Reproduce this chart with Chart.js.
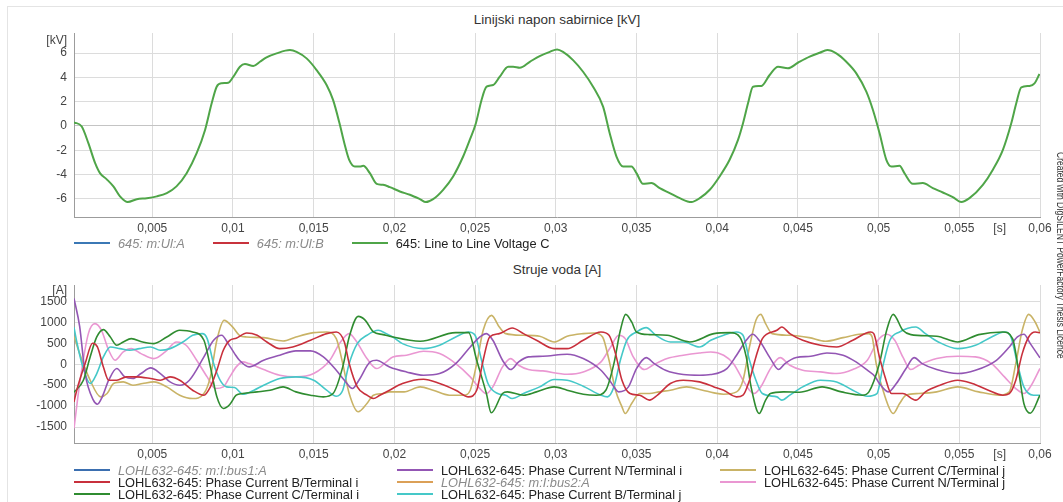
<!DOCTYPE html>
<html>
<head>
<meta charset="utf-8">
<script src="https://cdn.jsdelivr.net/npm/chart.js@4.4.0/dist/chart.umd.min.js"></script>
<style>
body { margin: 0; background: #fff; font-family: "Liberation Sans", Arial, sans-serif; overflow: hidden; }
#okvir { position: absolute; left: 7px; top: 6px; width: 1060px; height: 500px; border-top: 1px solid #e4e4e4; border-left: 1px solid #e4e4e4; }
.graf { position: absolute; left: 0; }
.naslov { position: absolute; left: 74px; width: 966px; text-align: center; font-size: 13.5px; color: #333; line-height: 16px; }
.legenda { position: absolute; left: 74px; font-size: 12.8px; color: #222; }
.legenda .stavka { display: flex; align-items: center; height: 12px; white-space: nowrap; }
.legenda .crta { width: 36px; height: 2px; margin-right: 8px; flex: none; }
.legenda .skriven { font-style: italic; color: #8a8a8a; }
#gornjaLegenda { top: 237px; display: flex; }
#gornjaLegenda .stavka { margin-right: 28px; }
#donjaLegenda { top: 464px; display: grid; grid-auto-flow: column; grid-template-rows: 12px 12px 12px; grid-template-columns: 323px 323px 323px; }
#potpis { position: absolute; left: 1055px; top: 152px; writing-mode: vertical-rl; transform: scaleY(0.85); transform-origin: top; font-size: 10px; color: #333; white-space: nowrap; }
</style>
</head>
<body>
<div id="okvir"></div>
<div class="naslov" style="top:12px">Linijski napon sabirnice [kV]</div>
<canvas id="naponGraf" class="graf" style="top:0" width="1063" height="252"></canvas>
<div id="gornjaLegenda" class="legenda"></div>
<div class="naslov" style="top:262px">Struje voda [A]</div>
<canvas id="strujaGraf" class="graf" style="top:252px" width="1063" height="250"></canvas>
<div id="donjaLegenda" class="legenda"></div>
<div id="potpis">Created with DIgSILENT PowerFactory Thesis Licence</div>
<script>
// vrijeme u ms, napon u kV
var naponC = [[0.15, 0.3], [0.63, -0.05], [1.04, -1.42], [1.46, -3.07], [1.76, -3.89], [2.18, -4.4], [2.59, -4.98],
    [3.0, -5.8], [3.48, -6.27], [4.04, -6.03], [4.66, -5.95], [5.28, -5.8], [5.9, -5.53], [6.5, -4.98], [7.13, -3.89],
    [7.75, -2.25], [8.27, -0.33], [8.68, 1.86], [8.99, 3.23], [9.3, 3.51], [9.71, 3.56], [10.02, 4.05], [10.43, 4.87],
    [10.74, 5.09], [11.26, 4.93], [11.67, 5.28], [12.08, 5.64], [12.7, 5.97], [13.53, 6.24], [13.94, 6.1], [14.56, 5.56],
    [15.18, 4.6], [15.8, 3.37], [16.2, 2.14], [16.6, 0.22], [16.9, -1.42], [17.2, -2.79], [17.55, -3.34], [17.86, -3.34],
    [18.07, -3.29], [18.48, -3.89], [18.9, -4.77], [19.3, -4.85], [19.72, -5.04], [20.34, -5.4], [20.96, -5.67],
    [21.58, -6.03], [21.95, -6.27], [22.4, -6.03], [23.02, -5.26], [23.64, -4.16], [24.26, -2.52], [24.67, -1.15],
    [25.05, 0.22], [25.4, 2.14], [25.71, 3.23], [26.12, 3.37], [26.53, 4.05], [27.05, 4.87], [27.36, 4.87], [27.77, 4.79],
    [28.39, 5.28], [29.0, 5.75], [29.63, 6.1], [30.08, 6.3], [30.45, 6.1], [31.07, 5.42], [31.69, 4.46], [32.31, 3.23],
    [32.93, 1.59], [33.34, -0.6], [33.76, -2.52], [34.17, -3.34], [34.69, -3.34], [35.0, -3.89], [35.4, -4.77],
    [35.93, -4.71], [36.44, -5.12], [37.06, -5.53], [37.68, -5.95], [38.4, -6.27], [38.92, -5.95], [39.54, -5.26],
    [40.15, -4.16], [40.77, -2.79], [41.29, -1.15], [41.6, 0.22], [41.91, 1.86], [42.22, 3.23], [42.74, 3.29],
    [43.25, 4.19], [43.77, 4.87], [44.38, 4.74], [45.0, 5.2], [45.73, 5.7], [46.35, 6.02], [46.82, 6.24], [47.38, 5.97],
    [48.0, 5.28], [48.62, 4.33], [49.24, 2.82], [49.65, 1.31], [50.06, -0.6], [50.48, -2.79], [50.79, -3.34],
    [51.3, -3.29], [51.6, -3.89], [52.12, -4.77], [52.74, -4.71], [53.36, -5.12], [53.98, -5.48], [54.6, -5.86],
    [55.12, -6.27], [55.63, -5.95], [56.46, -4.85], [57.08, -3.6], [57.7, -1.97], [58.22, 0.22], [58.53, 1.86],
    [58.84, 3.18], [59.35, 3.29], [59.66, 3.51], [59.97, 4.27]
];

// vrijeme u ms, struja u A
var strujaBi = [[0.15, -900], [0.32, -620], [0.84, 15], [1.3, 500], [1.6, 412], [1.97, -64], [2.3, -382], [2.8, -382],
    [3.4, -303], [4.0, -303], [4.9, -342], [5.5, -382], [6.1, -303], [6.7, -382], [7.5, -620], [8.2, -739], [8.6, -541],
    [9.0, -144], [9.4, 333], [9.8, 571], [10.2, 620], [10.85, 745], [11.5, 690], [12.1, 531], [12.9, 372], [13.7, 412],
    [14.8, 571], [15.8, 730], [16.4, 769], [16.9, 531], [17.2, 15], [17.7, -541], [18.3, -739], [18.7, -819],
    [19.1, -739], [19.7, -620], [20.5, -461], [21.8, -358], [22.8, -461], [23.8, -620], [24.6, -779], [25.1, -620],
    [25.5, 94], [25.9, 650], [26.5, 730], [27.3, 865], [28.0, 730], [28.8, 571], [29.9, 372], [30.7, 372], [31.7, 571],
    [32.8, 769], [33.3, 690], [33.7, 253], [34.1, -382], [34.6, -700], [35.2, -739], [35.8, -858], [36.3, -739],
    [37.1, -461], [37.9, -382], [38.9, -422], [39.8, -541], [40.4, -620], [41.2, -779], [41.6, -739], [42.0, -382],
    [42.4, 174], [42.8, 611], [43.7, 809], [44.0, 888], [44.5, 730], [45.3, 571], [46.4, 452], [47.4, 412], [48.4, 571],
    [49.5, 769], [49.7, 730], [50.05, 174], [50.4, -303], [50.8, -700], [51.5, -700], [52.3, -858], [52.9, -660],
    [53.8, -501], [54.9, -382], [55.8, -461], [56.8, -620], [57.7, -739], [58.1, -700], [58.5, -382], [58.9, 253],
    [59.3, 650], [59.7, 769], [60.0, 750]
];

var strujaCi = [[0.15, -670], [0.73, -382], [1.15, 174], [1.56, 650], [1.97, 825], [2.4, 650], [2.8, 452], [3.2, 531],
    [3.7, 611], [4.4, 531], [5.1, 491], [5.9, 650], [6.7, 809], [7.5, 769], [8.2, 571], [8.6, -64], [9.0, -779],
    [9.4, -1057], [9.8, -960], [10.2, -739], [10.6, -700], [11.5, -660], [12.3, -620], [13.1, -541], [13.9, -660],
    [14.8, -739], [15.6, -779], [16.2, -700], [16.8, -64], [17.2, 650], [17.76, 1142], [18.2, 1047], [18.7, 769],
    [19.3, 706], [19.7, 666], [21.6, 547], [23.8, 753], [24.6, 753], [25.1, 94], [25.7, -700], [26.0, -1160],
    [26.7, -700], [27.0, -660], [28.0, -739], [28.8, -660], [29.9, -541], [30.7, -620], [31.7, -715], [32.5, -739],
    [33.1, -620], [33.6, 15], [34.0, 809], [34.33, 1190], [34.7, 1008], [35.0, 769], [35.8, 706], [36.9, 690],
    [38.3, 531], [39.8, 730], [40.8, 753], [41.4, 650], [41.8, 174], [42.1, -541], [42.6, -1176], [43.0, -858],
    [43.3, -700], [44.1, -660], [45.1, -668], [46.5, -541], [47.7, -660], [49.0, -739], [49.4, -660], [50.05, 15],
    [50.5, 809], [50.9, 1190], [51.5, 809], [52.0, 706], [53.6, 666], [54.9, 531], [56.2, 706], [57.7, 769],
    [58.3, 611], [58.7, -223], [59.0, -938], [59.4, -1170], [60.0, -740]
];

var strujaNi = [[0.15, 1570], [0.5, 900], [0.84, -223], [1.35, -858], [1.6, -954], [1.9, -779], [2.3, -382],
    [2.8, -104], [3.3, -303], [3.8, -342], [4.3, -223], [4.9, -88], [5.5, -223], [6.1, -422], [6.7, -501], [7.3, -382],
    [8.2, 174], [8.8, 571], [9.3, 690], [9.7, 491], [10.1, 253], [10.4, 94], [11.0, -64], [11.9, 94], [12.9, 214],
    [13.9, 317], [14.8, 317], [15.6, 174], [16.4, -144], [16.9, -382], [17.4, -581], [17.8, -382], [18.5, 55],
    [18.9, 94], [19.5, -25], [19.7, -64], [20.75, -184], [21.8, -263], [22.8, -223], [23.8, 15], [24.7, 412],
    [25.3, 650], [25.7, 730], [26.1, 571], [26.7, 94], [27.2, -128], [27.7, 55], [28.3, 174], [29.2, 190],
    [30.7, 237], [31.7, 134], [32.8, -144], [33.4, -422], [33.9, -660], [34.5, -541], [35.0, -104], [35.6, 158],
    [36.1, 15], [36.8, -144], [37.9, -247], [38.9, -263], [39.6, -247], [40.6, -104], [41.2, 214], [41.8, 571],
    [42.2, 714], [42.6, 571], [43.3, 134], [43.8, -128], [44.2, 15], [44.9, 158], [45.8, 190], [46.8, 269],
    [47.8, 214], [48.6, 55], [49.3, -144], [49.8, -303], [50.05, -461], [50.6, -660], [51.1, -461], [51.7, -104],
    [52.2, 158], [52.7, 15], [53.6, -128], [54.9, -223], [56.0, -144], [57.3, 94], [58.1, 412], [58.6, 650],
    [59.0, 714], [59.4, 491], [60.0, 150]
];

var strujaBj = [[0.15, 880], [0.3, 571], [0.7, -64], [1.15, -461], [1.56, -223], [1.97, 174], [2.4, 412], [3.0, 372],
    [3.6, 333], [4.2, 372], [4.9, 412], [5.5, 333], [6.1, 372], [6.9, 531], [7.5, 690], [8.1, 730], [8.4, 611],
    [8.8, 15], [9.2, -382], [9.6, -541], [10.1, -557], [10.6, -715], [11.3, -620], [11.9, -501], [12.9, -342],
    [13.9, -303], [15.0, -382], [15.8, -620], [16.4, -763], [16.8, -620], [17.2, 15], [17.7, 491], [18.3, 690],
    [19.0, 809], [19.5, 730], [19.9, 650], [20.5, 491], [21.8, 372], [22.8, 452], [23.8, 650], [24.6, 769], [25.0, 690],
    [25.4, 94], [25.8, -461], [26.4, -700], [26.9, -739], [27.3, -819], [28.0, -700], [29.0, -541], [29.9, -366],
    [30.7, -382], [31.7, -525], [32.8, -739], [33.2, -779], [33.6, -541], [34.0, 94], [34.4, 571], [35.0, 769],
    [35.6, 873], [36.2, 690], [37.1, 531], [37.9, 531], [38.9, 412], [39.6, 570], [40.4, 690], [41.2, 769],
    [41.6, 690], [42.0, 94], [42.4, -382], [42.8, -700], [43.7, -779], [44.0, -858], [44.5, -739], [45.3, -541],
    [46.4, -382], [47.4, -422], [48.4, -620], [49.3, -763], [49.9, -700], [50.3, 15], [50.7, 571], [51.3, 769],
    [52.3, 888], [52.9, 730], [53.7, 531], [54.9, 372], [56.0, 452], [57.0, 650], [57.8, 769], [58.2, 650],
    [58.6, 15], [59.0, -541], [59.6, -739], [60.0, -740]
];

var strujaCj = [[0.15, 660], [0.5, 253], [1.15, -382], [1.8, -779], [2.2, -700], [2.6, -461], [3.2, -422],
    [3.8, -501], [4.4, -461], [5.1, -422], [5.9, -541], [6.7, -739], [7.5, -819], [8.2, -700], [8.6, -303], [9.0, 571],
    [9.45, 1047], [10.0, 880], [10.4, 690], [10.85, 650], [11.9, 634], [13.1, 555], [13.9, 650], [15.0, 753],
    [15.8, 769], [16.4, 611], [16.8, 15], [17.2, -700], [17.76, -1136], [18.3, -938], [18.7, -739], [19.3, -700],
    [19.7, -660], [20.6, -660], [21.6, -541], [22.4, -620], [23.4, -739], [24.3, -739], [24.7, -620], [25.1, 15],
    [25.5, 809], [26.02, 1166], [26.5, 888], [26.9, 730], [28.0, 690], [29.0, 666], [29.9, 531], [30.7, 666],
    [31.7, 730], [32.4, 745], [32.9, 650], [33.3, 94], [33.7, -620], [34.1, -1017], [34.3, -1176], [34.7, -938],
    [35.2, -700], [35.8, -700], [36.4, -660], [37.1, -620], [38.1, -541], [39.1, -620], [39.8, -684], [40.4, -715],
    [41.2, -660], [41.6, -382], [42.0, 412], [42.4, 1047], [42.7, 1190], [43.0, 968], [43.4, 730], [44.5, 690],
    [45.7, 634], [46.7, 547], [47.8, 634], [48.8, 714], [49.4, 730], [49.6, 650], [49.85, 15], [50.4, -779],
    [50.9, -1176], [51.3, -938], [51.7, -739], [52.5, -700], [53.6, -660], [54.9, -541], [56.2, -660], [57.5, -739],
    [58.1, -660], [58.5, 15], [58.9, 809], [59.3, 1190], [59.7, 1008], [60.0, 760]
];

var strujaNj = [[0.15, -1530], [0.53, -382], [1.04, 730], [1.45, 968], [1.85, 809], [2.3, 333], [2.7, 94], [3.2, 293],
    [3.7, 372], [4.3, 253], [5.1, 134], [5.8, 293], [6.5, 531], [7.1, 452], [7.75, 94], [8.4, -303], [8.9, -581],
    [9.4, -541], [9.8, -303], [10.2, -64], [10.6, 55], [11.0, 15], [11.9, -128], [12.9, -263], [13.9, -303],
    [15.0, -223], [16.0, 94], [16.6, 491], [17.2, 730], [17.6, 571], [18.3, 134], [18.9, -104], [19.5, 55],
    [19.9, 174], [20.75, 214], [21.8, 309], [22.8, 253], [23.8, 15], [24.7, -303], [25.3, -581], [25.7, -700],
    [26.1, -541], [26.7, -64], [27.2, 134], [27.7, -25], [28.3, -128], [29.2, -160], [30.7, -239], [31.7, -184],
    [32.8, 55], [33.4, 412], [33.9, 690], [34.3, 611], [34.8, 174], [35.5, -128], [36.0, -25], [36.9, 134],
    [37.9, 214], [38.9, 269], [39.6, 293], [40.4, 214], [41.0, 15], [41.6, -382], [42.0, -620], [42.3, -700],
    [42.7, -541], [43.3, -104], [43.9, 158], [44.5, -25], [45.3, -144], [46.4, -184], [47.4, -223], [48.4, -128],
    [49.3, 94], [49.96, 571], [50.5, 714], [51.0, 571], [51.5, 174], [52.0, -128], [52.5, -25], [53.6, 134],
    [54.9, 190], [56.0, 174], [57.0, 15], [57.8, -303], [58.5, -581], [59.0, -700], [59.4, -541], [60.0, -100]
];

// oznake osi
var xVrijednosti = [0.005, 0.01, 0.015, 0.02, 0.025, 0.03, 0.035, 0.04, 0.045, 0.05, 0.055, 0.0575, 0.06];
var xOznake = ['0,005', '0,01', '0,015', '0,02', '0,025', '0,03', '0,035', '0,04', '0,045', '0,05', '0,055', '[s]', '0,06'];
var naponVrijednosti = [-6, -4, -2, 0, 2, 4, 6, 7];
var naponOznake = ['-6', '-4', '-2', '0', '2', '4', '6', '[kV]'];
var strujaVrijednosti = [-1500, -1000, -500, 0, 500, 1000, 1500, 1750];
var strujaOznake = ['-1500', '-1000', '-500', '0', '500', '1000', '1500', '[A]'];

function uTocke(niz) {
    return niz.map(function(p) {
        return { x: p[0] / 1000, y: p[1] };
    });
}

function serija(naziv, boja, niz, skriven, debljina) {
    return {
        label: naziv,
        data: niz ? uTocke(niz) : [],
        borderColor: boja,
        backgroundColor: boja,
        borderWidth: debljina || 1.6,
        pointRadius: 0,
        cubicInterpolationMode: 'monotone',
        hidden: !!skriven
    };
}

function xOs() {
    return {
        type: 'linear',
        min: 0.00015,
        max: 0.06,
        afterBuildTicks: function(scale) {
            scale.ticks = xVrijednosti.map(function(v) { return { value: v }; });
        },
        afterFit: function(scale) { scale.height = 20; },
        ticks: {
            autoSkip: false,
            maxRotation: 0,
            padding: 4,
            color: '#444',
            font: { family: 'Liberation Sans', size: 12 },
            callback: function(value) {
                return xOznake[xVrijednosti.indexOf(value)];
            }
        },
        grid: {
            drawTicks: false,
            color: function(ctx) {
                return ctx.tick && ctx.tick.value === 0.0575 ? 'rgba(0,0,0,0)' : '#dcdcdc';
            }
        },
        border: { color: '#9c9c9c' }
    };
}

function yOs(min, max, vrijednosti, oznake, nula) {
    return {
        min: min,
        max: max,
        afterBuildTicks: function(scale) {
            scale.ticks = vrijednosti.map(function(v) { return { value: v }; });
        },
        afterFit: function(scale) { scale.width = 74; },
        ticks: {
            padding: 7,
            color: '#444',
            font: { family: 'Liberation Sans', size: 12 },
            callback: function(value) {
                return oznake[vrijednosti.indexOf(value)];
            }
        },
        grid: {
            drawTicks: false,
            color: function(ctx) {
                if (!ctx.tick) return '#dcdcdc';
                if (ctx.tick.value === vrijednosti[vrijednosti.length - 1]) return 'rgba(0,0,0,0)';
                return ctx.tick.value === 0 && nula ? '#c4c4c4' : '#dcdcdc';
            }
        },
        border: { color: '#9c9c9c' }
    };
}

function napraviLegendu(graf, id) {
    var kutija = document.getElementById(id);
    graf.data.datasets.forEach(function(ds) {
        var stavka = document.createElement('div');
        stavka.className = 'stavka';
        var crta = document.createElement('span');
        crta.className = 'crta';
        crta.style.background = ds.borderColor;
        var tekst = document.createElement('span');
        tekst.textContent = ds.label;
        if (ds.hidden) tekst.className = 'skriven';
        stavka.appendChild(crta);
        stavka.appendChild(tekst);
        kutija.appendChild(stavka);
    });
}

// graf 1 - napon
var naponCtx = document.getElementById('naponGraf').getContext('2d');
var naponGraf = new Chart(naponCtx, {
    type: 'line',
    data: {
        datasets: [
            serija('645: m:Ul:A', '#3b78b5', null, true),
            serija('645: m:Ul:B', '#c8323c', null, true),
            serija('645: Line to Line Voltage C', '#4fa548', naponC, false, 2)
        ]
    },
    options: {
        responsive: false,
        animation: false,
        layout: { padding: { top: 33, right: 23, bottom: 15, left: 0 } },
        scales: {
            x: xOs(),
            y: yOs(-7.5, 7.65, naponVrijednosti, naponOznake, true)
        },
        plugins: { legend: { display: false }, tooltip: { enabled: false } }
    }
});
napraviLegendu(naponGraf, 'gornjaLegenda');

// graf 2 - struje
var strujaCtx = document.getElementById('strujaGraf').getContext('2d');
var strujaGraf = new Chart(strujaCtx, {
    type: 'line',
    data: {
        datasets: [
            serija('LOHL632-645: m:I:bus1:A', '#3b6fb0', null, true),
            serija('LOHL632-645: Phase Current B/Terminal i', '#c8303c', strujaBi),
            serija('LOHL632-645: Phase Current C/Terminal i', '#2f8c30', strujaCi),
            serija('LOHL632-645: Phase Current N/Terminal i', '#9356b4', strujaNi),
            serija('LOHL632-645: m:I:bus2:A', '#dba057', null, true),
            serija('LOHL632-645: Phase Current B/Terminal j', '#45c8c8', strujaBj),
            serija('LOHL632-645: Phase Current C/Terminal j', '#c9b366', strujaCj),
            serija('LOHL632-645: Phase Current N/Terminal j', '#ea97d2', strujaNj)
        ]
    },
    options: {
        responsive: false,
        animation: false,
        layout: { padding: { top: 33, right: 23, bottom: 39, left: 0 } },
        scales: {
            x: xOs(),
            y: yOs(-1880, 1890, strujaVrijednosti, strujaOznake, false)
        },
        plugins: { legend: { display: false }, tooltip: { enabled: false } }
    }
});
napraviLegendu(strujaGraf, 'donjaLegenda');
</script>
</body>
</html>
